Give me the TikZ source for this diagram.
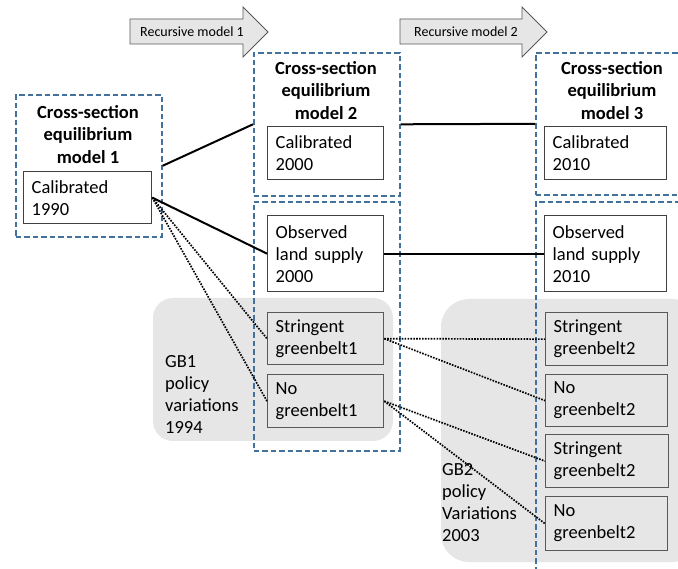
\documentclass[tikz,border=0pt]{standalone}
\usepackage{fontspec}
\setmainfont{Carlito}
\definecolor{dblue}{HTML}{41719C}
\definecolor{gfill}{HTML}{E6E6E6}
\definecolor{gline}{HTML}{595959}
\definecolor{bline}{HTML}{404040}
\begin{document}
\begin{tikzpicture}[x=1pt,y=-1pt,
  every node/.style={font=\fontsize{18.5}{22}\selectfont},
  dbox/.style={draw=dblue, line width=1.6pt, dash pattern=on 5.5pt off 3pt, rectangle, inner sep=0pt, anchor=north west},
  wbox/.style={draw=bline, line width=1.3pt, fill=white, rectangle, anchor=north west, align=left, inner xsep=8pt, inner ysep=0pt},
  gbox/.style={wbox, fill=gfill, draw=gline},
  region/.style={fill=gfill},
  titletext/.style={font=\bfseries\fontsize{18.5}{22.5}\selectfont, align=center, inner sep=0pt, anchor=north},
  regtext/.style={align=left, inner sep=0pt, anchor=north west},
  rarrow/.style={fill=gfill, draw=gline, line width=0.9pt, line join=miter},
  rtext/.style={font=\fontsize{14}{16}\selectfont, inner sep=0pt},
  conn/.style={line width=2pt, black},
  dotconn/.style={line width=1.7pt, black, dash pattern=on 1.6pt off 1.3pt}
]
\clip (0,0) rectangle (678,569);
\fill[white] (0,0) rectangle (678,569);

% recursive arrows
\draw[rarrow] (130,19) -- (243,19) -- (243,7) -- (268,32) -- (243,57) -- (243,44) -- (130,44) -- cycle;
\node[rtext] (r1) at (192,32) {Recursive model 1};
\draw[rarrow] (400,19) -- (522,19) -- (522,7) -- (547,32) -- (522,57) -- (522,44) -- (400,44) -- cycle;
\node[rtext] (r2) at (466,32) {Recursive model 2};

% grey policy regions
\fill[region, rounded corners=20pt] (153,298) rectangle (393,441);
\fill[region, rounded corners=28pt] (441,299) rectangle (700,562);
\node[regtext] (gb1) at (165,355) {GB1\\policy\\variations\\1994};
\node[regtext] (gb2) at (442,463) {GB2\\policy\\Variations\\2003};

% dashed model boxes
\node[dbox, minimum width=146pt, minimum height=142pt] (m1) at (15,94) {};
\node[dbox, minimum width=146pt, minimum height=143pt] (m2) at (253,52) {};
\node[dbox, minimum width=170pt, minimum height=142pt] (m3) at (535,52) {};
\node[dbox, minimum width=146pt, minimum height=249pt] (m2b) at (253,201) {};
\node[dbox, minimum width=170pt, minimum height=400pt] (m3b) at (535,201) {};

% titles
\node[titletext] (t1) at (88,105) {Cross-section\\equilibrium\\model 1};
\node[titletext] (t2) at (326,61) {Cross-section\\equilibrium\\model 2};
\node[titletext] (t3) at (612,61) {Cross-section\\equilibrium\\model 3};

% boxes
\node[wbox, text width=112pt, minimum height=52pt] (cal1) at (23,171) {Calibrated\\1990};
\node[wbox, text width=100pt, minimum height=53pt] (cal2) at (267,126) {Calibrated\\2000};
\node[wbox, text width=106pt, minimum height=53pt] (cal3) at (544,126) {Calibrated\\2010};
\node[wbox, text width=100pt, minimum height=76pt] (obs2) at (267,215) {Observed\\land supply\\2000};
\node[wbox, text width=106pt, minimum height=76pt] (obs3) at (544,215) {Observed\\land supply\\2010};
\node[gbox, text width=100pt, minimum height=52pt] (sg1) at (267,312) {Stringent\\greenbelt1};
\node[gbox, text width=100pt, minimum height=53pt] (ng1) at (267,374) {No\\greenbelt1};
\node[gbox, text width=106pt, minimum height=53pt] (sg2a) at (545,312) {Stringent\\greenbelt2};
\node[gbox, text width=106pt, minimum height=52pt] (ng2a) at (545,374) {No\\greenbelt2};
\node[gbox, text width=107pt, minimum height=53pt] (sg2b) at (545,434) {Stringent\\greenbelt2};
\node[gbox, text width=106pt, minimum height=54pt] (ng2b) at (545,496) {No\\greenbelt2};

% connectors
\draw[conn] (m1.east) -- (m2.west);
\draw[conn] (m2.east) -- (m3.west);
\draw[conn] (cal1.east) -- (obs2.west);
\draw[conn] (obs2.east) -- (obs3.west);
\draw[dotconn] (cal1.east) -- (sg1.west);
\draw[dotconn] (cal1.east) -- (ng1.west);
\draw[dotconn] (sg1.east) -- (sg2a.west);
\draw[dotconn] (sg1.east) -- (ng2a.west);
\draw[dotconn] (ng1.east) -- (sg2b.west);
\draw[dotconn] (ng1.east) -- (ng2b.west);
\end{tikzpicture}
\end{document}
